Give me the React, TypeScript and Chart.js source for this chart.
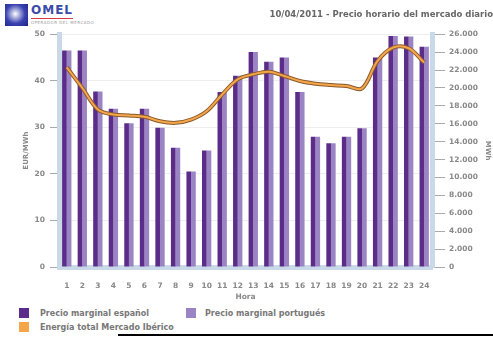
import React, { useEffect, useRef } from 'react';
import { Chart, registerables } from 'chart.js';

Chart.register(...registerables);

const hours = ['1', '2', '3', '4', '5', '6', '7', '8', '9', '10', '11', '12', '13', '14', '15', '16', '17', '18', '19', '20', '21', '22', '23', '24'];
const spainPrice = [46.5, 46.5, 37.7, 34.0, 30.9, 34.0, 29.9, 25.6, 20.5, 25.0, 37.6, 41.1, 46.2, 44.1, 45.0, 37.6, 28.0, 26.6, 28.0, 29.8, 45.0, 49.6, 49.5, 47.3];
const portugalPrice = [46.5, 46.5, 37.7, 34.0, 30.9, 34.0, 29.9, 25.6, 20.5, 25.0, 37.6, 41.1, 46.2, 44.1, 45.0, 37.6, 28.0, 26.6, 28.0, 29.8, 45.0, 49.6, 49.5, 47.3];
const totalEnergy = [22300, 20000, 17600, 17030, 16920, 16780, 16280, 16100, 16470, 17400, 19270, 20960, 21520, 21810, 21330, 20770, 20470, 20320, 20210, 19950, 23010, 24510, 24430, 22830];
const priceAxisMax = 50;
const priceAxisStep = 10;
const energyAxisMax = 26000;
const energyAxisStep = 2000;

const titleText = '10/04/2011 - Precio horario del mercado diario';
const legendItems = [
  { label: 'Precio marginal español', color: '#5b2c8a' },
  { label: 'Precio marginal portugués', color: '#9b84c4' },
  { label: 'Energía total Mercado Ibérico', color: '#f5a64a' },
];

const FONT = "'DejaVu Sans', Verdana, sans-serif";
const WALL = '#c9d9e8';

function fmtThousands(v: number): string {
  return String(Math.round(v)).replace(/\B(?=(\d{3})+(?!\d))/g, '.');
}

export default function App() {
  const canvasRef = useRef<HTMLCanvasElement | null>(null);

  useEffect(() => {
    const canvas = canvasRef.current;
    if (!canvas) return;
    const tickFont = { family: FONT, size: 7.5, weight: 'bold' as const };
    const chart = new Chart(canvas, {
      data: {
        labels: hours,
        datasets: [
          {
            type: 'line',
            label: 'Energía total Mercado Ibérico',
            data: totalEnergy,
            yAxisID: 'y1',
            borderColor: '#f5a64a',
            borderWidth: 2,
            tension: 0.35,
            pointRadius: 0,
            order: 0,
          },
          {
            type: 'line',
            label: 'shadow',
            data: totalEnergy,
            yAxisID: 'y1',
            borderColor: '#8a5a2c',
            borderWidth: 4,
            tension: 0.35,
            pointRadius: 0,
            order: 1,
          },
          {
            type: 'bar',
            label: 'Precio marginal español',
            data: spainPrice,
            yAxisID: 'y',
            backgroundColor: '#5b2c8a',
            categoryPercentage: 0.6,
            barPercentage: 1.0,
            order: 2,
          },
          {
            type: 'bar',
            label: 'Precio marginal portugués',
            data: portugalPrice,
            yAxisID: 'y',
            backgroundColor: '#9b84c4',
            categoryPercentage: 0.6,
            barPercentage: 1.0,
            order: 2,
          },
        ],
      },
      options: {
        responsive: false,
        animation: false,
        layout: { padding: 0 },
        plugins: {
          legend: { display: false },
          tooltip: { enabled: false },
          title: {
            display: true,
            text: titleText,
            align: 'end',
            color: '#666666',
            font: { family: FONT, size: 8.5, weight: 'bold' },
            padding: { top: 10, bottom: 14 },
          },
        },
        scales: {
          x: {
            type: 'category',
            offset: true,
            grid: { display: true, drawOnChartArea: false, drawTicks: false },
            border: { display: true, color: WALL, width: 5, dash: [13.5, 2], dashOffset: 0 },
            ticks: { color: '#888888', font: tickFont, padding: 15, maxRotation: 0, autoSkip: false },
            title: {
              display: true,
              text: 'Hora',
              color: '#888888',
              font: { family: FONT, size: 7.5, weight: 'bold' },
              padding: { top: 0, bottom: 3 },
            },
            afterFit: (s: any) => { s.height = 38; },
          },
          y: {
            type: 'linear',
            position: 'left',
            min: 0,
            max: priceAxisMax,
            ticks: { stepSize: priceAxisStep, color: '#888888', font: tickFont, padding: 5 },
            grid: { color: '#eeeeee', tickColor: '#aaaaaa', tickLength: 9, drawTicks: true },
            border: { display: true, color: WALL, width: 5 },
            title: {
              display: true,
              text: 'EUR/MWh',
              color: '#888888',
              font: { family: FONT, size: 7, weight: 'bold' },
              padding: { top: 22, bottom: 0 },
            },
            afterFit: (s: any) => { s.width = 59; },
          },
          y1: {
            type: 'linear',
            position: 'right',
            min: 0,
            max: energyAxisMax,
            ticks: {
              stepSize: energyAxisStep,
              color: '#888888',
              font: tickFont,
              padding: 4,
              callback: (v: any) => fmtThousands(Number(v)),
            },
            grid: { drawOnChartArea: false, tickColor: '#aaaaaa', tickLength: 13, drawTicks: true },
            border: { display: true, color: WALL, width: 5 },
            title: {
              display: true,
              text: 'MWh',
              color: '#888888',
              font: { family: FONT, size: 7, weight: 'bold' },
              padding: { top: 1, bottom: 0 },
            },
            afterFit: (s: any) => { s.width = 61; },
          },
        },
      },
    } as any);
    return () => chart.destroy();
  }, []);

  return (
    <div style={{ position: 'fixed', left: 0, top: 0, width: 493, height: 337, background: '#ffffff', overflow: 'hidden', fontFamily: FONT }}>
      {/* logo */}
      <div style={{ position: 'absolute', left: 5, top: 4, width: 23, height: 22, background: 'radial-gradient(circle at 45% 45%, #ffffff 0%, #c8cce8 15%, #3a42b0 55%, #1c2388 100%)' }} />
      <div style={{ position: 'absolute', left: 31, top: 2, fontSize: 12, fontWeight: 'bold', color: '#3b4aa8', letterSpacing: 1, lineHeight: '16px' }}>OMEL</div>
      <div style={{ position: 'absolute', left: 31, top: 18, width: 42, height: 1, background: '#d83a4a' }} />
      <div style={{ position: 'absolute', left: 31, top: 20, fontSize: 4, color: '#999999', letterSpacing: 0.5, lineHeight: '5px', whiteSpace: 'nowrap' }}>OPERADOR DEL MERCADO</div>
      <canvas ref={canvasRef} width={493} height={305} style={{ position: 'absolute', left: 0, top: 0, width: 493, height: 305 }} />
      {/* legend */}
      {legendItems.map((it, i) => {
        const left = i === 1 ? 186 : 19;
        const top = i === 2 ? 322 : 308;
        return (
          <div key={it.label} style={{ position: 'absolute', left, top, height: 10, display: 'flex', alignItems: 'center', whiteSpace: 'nowrap' }}>
            <div style={{ width: 10, height: 10, background: it.color }} />
            <div style={{ marginLeft: i === 1 ? 9 : 11, fontSize: 8, fontWeight: 'bold', color: '#777777' }}>{it.label}</div>
          </div>
        );
      })}
      <div style={{ position: 'absolute', left: 118, top: 334, width: 375, height: 2, background: '#000000' }} />
    </div>
  );
}
